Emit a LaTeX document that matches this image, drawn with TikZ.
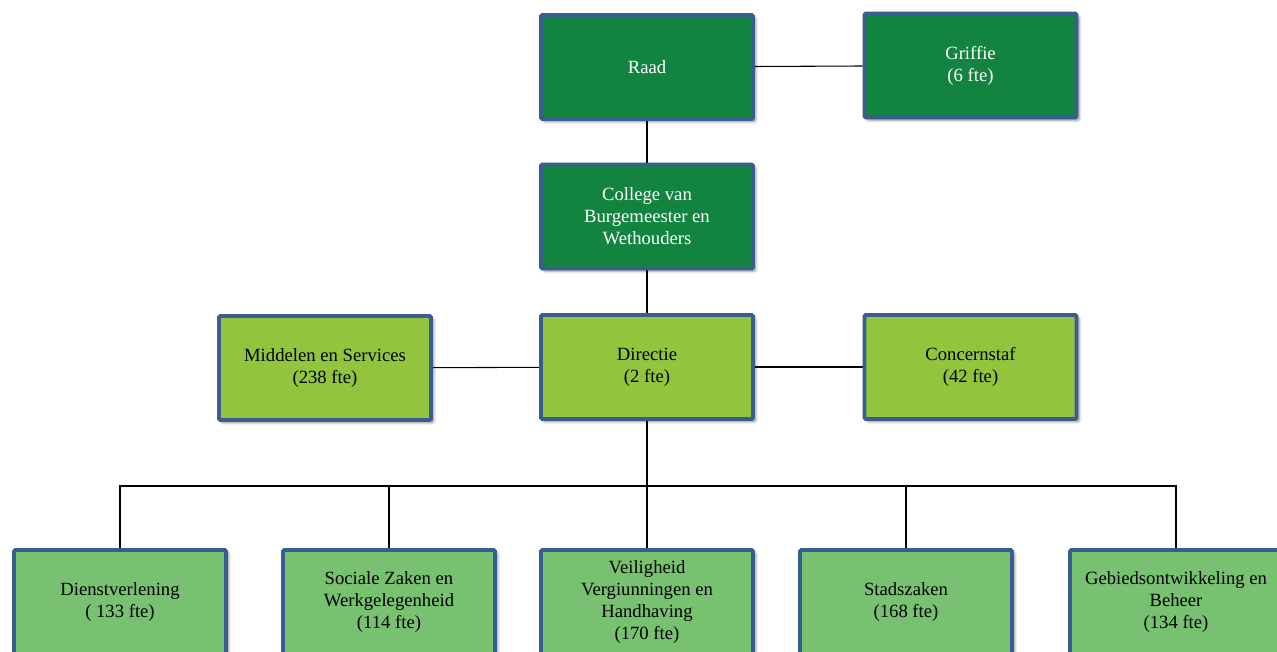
\documentclass[tikz,border=0pt]{standalone}
\usepackage{fontspec}
\setmainfont{Liberation Serif}
\usetikzlibrary{shadows.blur,backgrounds}
\definecolor{darkgreen}{RGB}{19,132,64}
\definecolor{midgreen}{RGB}{146,196,61}
\definecolor{lightgreen}{RGB}{119,193,112}
\definecolor{boxblue}{RGB}{56,94,144}

\begin{document}
\begin{tikzpicture}[x=0.75pt,y=-0.75pt]
\pgfmathsetmacro{\busY}{486}
\pgfmathsetmacro{\midX}{647}

\tikzstyle{unit}=[draw=boxblue,line width=2.8pt,rounded corners=1pt,minimum width=159pt,minimum height=78pt,align=center,font=\fontsize{14}{16.5}\selectfont,blur shadow={shadow xshift=2pt,shadow yshift=-2pt,shadow blur steps=5,shadow blur radius=2pt,shadow opacity=45}]
\tikzstyle{board}=[unit,fill=darkgreen,text=white]
\tikzstyle{staff}=[unit,fill=midgreen]
\tikzstyle{dept}=[unit,fill=lightgreen]
\tikzstyle{link}=[line width=0.8pt]

\useasboundingbox (0,0) rectangle (1277,652);
\clip (0,0) rectangle (1277,652);

% bestuur
\node[board] (raad) at (\midX,67) {Raad};
\node[board] (griffie) at (970.5,65.5) {Griffie\\(6 fte)};
\node[board] (college) at (\midX,216.5) {College van\\Burgemeester en\\Wethouders};

% directie en staf
\node[staff] (middelen) at (325,368) {Middelen en Services\\(238 fte)};
\node[staff] (directie) at (\midX,367) {Directie\\(2 fte)};
\node[staff] (concern) at (970.5,367) {Concernstaf\\(42 fte)};

% afdelingen
\node[dept] (dienst) at (120,602) {Dienstverlening\\( 133 fte)};
\node[dept] (sociaal) at (389,602) {Sociale Zaken en\\Werkgelegenheid\\(114 fte)};
\node[dept] (veilig) at (\midX,602) {Veiligheid\\Vergiunningen en\\Handhaving\\(170 fte)};
\node[dept] (stad) at (906,602) {Stadszaken\\(168 fte)};
\node[dept] (gebied) at (1176,602) {Gebiedsontwikkeling en\\Beheer\\(134 fte)};

\coordinate (bus) at (\midX,\busY);

\begin{scope}[on background layer]
\draw[link] (raad) -- (griffie);
\draw[link] (raad) -- (college);
\draw[link] (college) -- (directie);
\draw[link] (middelen) -- (directie);
\draw[link] (directie) -- (concern);
\draw[link] (directie) -- (bus);
\draw[link] (dienst.north) -- (dienst.north |- bus) -- (gebied.north |- bus) -- (gebied.north);
\foreach \n in {sociaal,veilig,stad}
  \draw[link] (\n.north) -- (\n.north |- bus);
\end{scope}
\end{tikzpicture}
\end{document}
